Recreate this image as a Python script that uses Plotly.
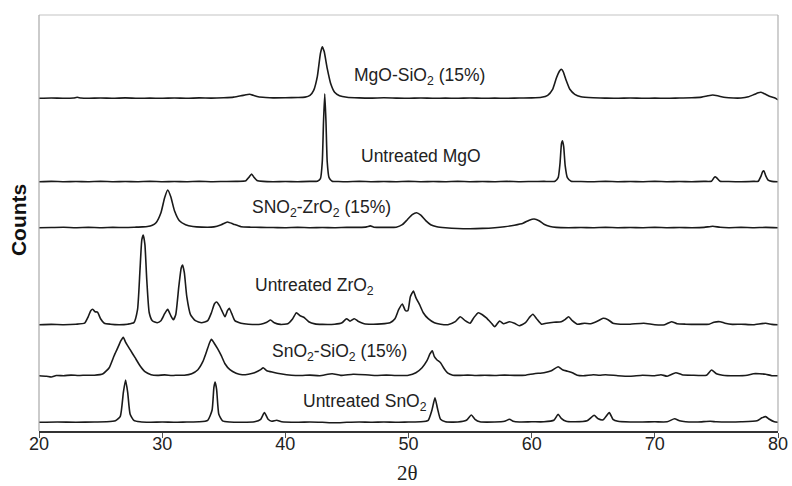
import plotly.graph_objects as go

# ---- data (2theta positions and intensities above each pattern's baseline) ----
labels = ["MgO-SiO<sub>2</sub> (15%)", "Untreated MgO", "SNO<sub>2</sub>-ZrO<sub>2</sub> (15%)",
          "Untreated ZrO<sub>2</sub>", "SnO<sub>2</sub>-SiO<sub>2</sub> (15%)", "Untreated SnO<sub>2</sub>"]
offsets = [332.7, 249.3, 203.3, 106.3, 55.3, 8.7]

mgo_sio2_x = [20, 21, 22, 22.8, 23.1, 23.4, 24, 25, 26, 27, 28, 29, 30, 31, 32, 33, 34, 35, 35.8, 36.4,
              36.8, 37.1, 37.4, 37.8, 38.4, 39, 40, 41, 41.6, 42.0, 42.3, 42.6, 42.85, 43.0, 43.15, 43.4,
              43.7, 44.0, 44.4, 45, 46, 47, 48, 49, 50, 51, 52, 53, 54, 55, 56, 57, 58, 59, 60, 60.8,
              61.3, 61.7, 62.0, 62.25, 62.4, 62.55, 62.8, 63.1, 63.5, 64, 65, 66, 67, 68, 69, 70, 71,
              72, 73, 73.8, 74.3, 74.7, 75.1, 75.6, 76, 77, 77.6, 78.1, 78.4, 78.6, 78.9, 79.3, 79.7, 80]
mgo_sio2_y = [0, 0.3, 0, 0.3, 1.0, 0.3, 0, 0.3, 0, 0.4, 0, 0.2, 0, 0.3, 0, 0.4, 0.2, 0.6, 1.2, 2.5,
              3.5, 4.0, 3.0, 1.5, 0.8, 0.4, 0.5, 0.8, 1.2, 3, 8, 22, 45, 51.6, 47, 30,
              14, 6, 2.5, 1, 0.4, 0.2, 0.5, 0.2, 0, 0.3, 0, 0.2, 0, 0.3, 0, 0.2, 0, 0.3, 0.4, 1,
              3, 9, 20, 27, 29, 27, 18, 9, 4, 1.5, 0.5, 0.2, 0, 0.3, 0, 0.2, 0,
              0.3, 0.5, 1.2, 2.5, 3.3, 2.5, 1.0, 0.5, 0.3, 1.5, 4, 5.5, 6, 4.5, 2, 0.5, -1.5]

mgo_x = [20, 21, 22, 23, 24, 25, 26, 27, 28, 29, 30, 31, 32, 33, 34, 35, 36, 36.8, 37.05, 37.26, 37.45,
         37.7, 38.2, 39, 40, 41, 42, 42.6, 42.85, 43.0, 43.1, 43.2, 43.3, 43.4, 43.55, 43.8, 44.3,
         45, 46, 47, 48, 49, 50, 51, 52, 53, 54, 55, 56, 57, 58, 59, 60, 61, 61.9, 62.15, 62.3, 62.42,
         62.5, 62.6, 62.72, 62.9, 63.2, 64, 65, 66, 67, 68, 69, 70, 71, 72, 73, 74, 74.6, 74.8, 74.9,
         75.05, 75.3, 76, 77, 78, 78.4, 78.6, 78.75, 78.85, 79.0, 79.2, 79.5, 80]
mgo_y = [0, 0.3, 0, 0.2, 0, 0.3, 0, 0.2, 0, 0.3, 0, 0.2, 0, 0.3, 0, 0.2, 0.3, 1.0, 4.5, 7.7, 4.5,
         1.2, 0.3, 0, 0.2, 0, 0.3, 0.5, 3, 20, 60, 88, 60, 20, 4, 0.5, 0.2,
         0, 0.3, 0, 0.2, 0, 0.3, 0, 0.2, 0, 0.3, 0, 0.2, 0, 0.3, 0, 0.2, 0.3, 0.5, 4, 18, 38,
         41, 35, 16, 4, 0.5, 0.2, 0, 0.3, 0, 0.2, 0, 0.3, 0, 0.2, 0, 0.3, 0.5, 4, 5,
         3.5, 0.5, 0.2, 0, 0.3, 0.5, 5, 10, 11, 6, 1.5, 0.3, 0]

sno2_zro2_x = [20, 21, 22, 23, 24, 25, 26, 27, 27.8, 28.4, 28.8, 29.2, 29.5, 29.9, 30.2, 30.45, 30.7,
               31.0, 31.4, 31.9, 32.5, 33.2, 34.2, 34.8, 35.3, 35.8, 36.4, 37.2, 38, 39, 40, 41, 42, 43,
               44, 45, 46, 46.6, 46.9, 47.2, 48, 49.0, 49.5, 49.9, 50.3, 50.65, 51.0, 51.4, 51.8, 52.3,
               53, 54, 55, 56, 57, 57.8, 58.6, 59.3, 59.8, 60.2, 60.6, 61.0, 61.5, 62, 63, 64, 65, 66,
               67, 68, 69, 70, 71, 72, 73, 74, 74.7, 75.3, 76, 77, 78, 79, 80]
sno2_zro2_y = [0, 0.2, 0.4, 0, 0.3, 0, 0.3, 0.2, 0.5, 0.8, 1.2, 2.5, 5, 15, 30, 37.7, 31,
               17, 7, 3, 1.2, 0.6, 0.8, 3, 5.7, 3.5, 1, 0.5, 0.3, 0.2, 0, 0.3, 0, 0.2,
               0, 0.3, 0.3, 0.8, 1.8, 0.5, 0.3, 0.5, 3, 8, 13, 15, 12.5, 7, 3, 1,
               0, -0.8, -1, -0.7, 0, 1, 2.5, 4.5, 7.5, 8.7, 7, 3.5, 1.2, 0.3, 0, 0.2, 0, 0.3,
               0, 0.2, 0, 0.3, 0, 0.2, 0, 0.3, 1.5, 0.4, 0, 0.3, 0, 0.3, 0]

zro2_x = [20, 21, 22, 23, 23.7, 24.0, 24.2, 24.36, 24.55, 24.75, 25.0, 25.3, 25.8, 26.5, 27.2, 27.7,
          28.0, 28.2, 28.35, 28.47, 28.6, 28.75, 28.95, 29.2, 29.6, 29.9, 30.2, 30.45, 30.7, 30.9,
          31.1, 31.35, 31.55, 31.66, 31.8, 32.0, 32.3, 32.7, 33.2, 33.7, 34.0, 34.25, 34.42, 34.65,
          34.85, 35.1, 35.3, 35.45, 35.65, 35.9, 36.4, 37, 38, 38.5, 38.8, 39.1, 39.6, 40.2, 40.6,
          40.9, 41.2, 41.5, 41.9, 42.4, 43, 44, 44.6, 44.97, 45.25, 45.6, 45.9, 46.4, 47, 47.8, 48.5,
          48.9, 49.2, 49.5, 49.75, 49.95, 50.15, 50.4, 50.6, 50.9, 51.2, 51.6, 52.1, 52.6, 53.2, 53.8,
          54.2, 54.6, 55.0, 55.3, 55.66, 56.0, 56.3, 56.7, 57.0, 57.4, 57.7, 58.2, 58.6, 59.0, 59.5,
          59.8, 60.1, 60.4, 60.8, 61.2, 61.8, 62.4, 62.7, 63.0, 63.3, 63.7, 64.3, 64.8, 65.4, 65.8,
          66.2, 66.6, 67.2, 68, 69.1, 70, 70.8, 71.35, 71.8, 72.5, 73.5, 74.4, 74.8, 75.3, 75.7, 76.3,
          77, 78, 79, 79.5, 80]
zro2_y = [0, 0.3, 0, 0.5, 1.5, 8, 14, 15.4, 13, 12.5, 6, 1.5, 0.5, 0, 0.5, 2,
          15, 55, 85, 89.7, 80, 45, 12, 4, 2, 4, 11, 15.4, 9, 5,
          10, 38, 57, 59.7, 52, 28, 10, 4, 2, 4, 12, 21, 22.7, 19,
          14, 8, 14, 16.4, 11, 4, 1.5, 0.5, 0.5, 2.5, 4.7, 2, 0.3, 1, 6,
          12, 9, 7.5, 3, 0.8, 0.3, 0.5, 2, 6, 3.5, 6, 3.5, 1, 0.5, 0.8, 2,
          6, 15, 20.7, 14, 14, 28, 33.7, 27, 20, 12, 6, 2, 0.5, 0, 3,
          8, 4, 1.5, 7, 12, 10, 7, 2, -2, 3.7, 1, 3, 1.5, -1, 2,
          7, 10.4, 6, 0.5, 1.5, 2.5, 3, 5, 8, 4, 0.5, 1.5, 1, 4, 6.4,
          5, 1.5, 0.5, 0.5, 1.5, 0, 0, 3, 1, 0.5, 0.3, 0.5, 2.5, 3, 1.5, 0.3,
          0.5, 0, 1.5, 0.3, 0]

sno2_sio2_x = [20, 20.6, 21.0, 21.4, 22, 22.6, 23.2, 23.8, 24.5, 25.2, 25.7, 26.1, 26.4, 26.65, 26.84,
               27.05, 27.4, 27.8, 28.2, 28.6, 29.1, 29.6, 30.2, 30.8, 31.3, 31.8, 32.4, 32.9, 33.3, 33.6,
               33.85, 34.0, 34.2, 34.5, 34.8, 35.1, 35.5, 36.0, 36.5, 37.0, 37.5, 38.0, 38.2, 38.5, 39,
               39.6, 40.5, 41.3, 42, 42.8, 43.8, 44.5, 45.5, 46.5, 47.3, 48.2, 49, 50.0, 50.6, 51.1, 51.5,
               51.75, 51.93, 52.1, 52.3, 52.6, 52.9, 53.2, 53.6, 54.2, 54.8, 55.5, 56.2, 57, 57.8, 58.6,
               59.5, 60.2, 61, 61.6, 62.15, 62.5, 62.9, 63.3, 63.7, 64.2, 65, 65.5, 66, 67, 68, 69, 70,
               70.5, 71, 71.7, 72.2, 73, 74.2, 74.6, 75.0, 75.5, 76.5, 77.5, 78, 78.5, 79, 79.5, 80]
sno2_sio2_y = [0, -0.5, -1.3, 0.2, 0, 0.6, 0.2, 0.5, 0.5, 2, 8, 20, 28, 35, 38.4,
               33, 26, 18, 10, 4, 1, 0.3, 0.8, 0.2, 0.5, 0.5, 2, 6, 14, 24,
               33, 36.4, 33, 27, 20, 12, 6, 2.5, 1, 1.5, 3, 6, 8, 5, 3.5,
               2, 0.5, 0.2, 0.6, 0, 2, 0.3, 1.5, 1, 0.2, 0.6, 0.2, 0.5, 3, 8, 15,
               22, 25, 19, 16, 13, 7, 2.5, 0.5, 0.3, 0.6, 0.2, 0.5, 0.2, 0.6, 0.3,
               0.5, 2, 3, 5, 9, 6, 4.5, 3, 0.5, 0, 1, 0.5, 1, 0, -0.5, 0.5, 0,
               1, -0.5, 3, 1, 0.5, 0.5, 5.7, 2, 0.5, 0, 0.5, 2, 2, 1.5, 0, 0]

sno2_x = [20, 21.5, 23, 24.5, 25.5, 26.2, 26.6, 26.85, 27.03, 27.2, 27.4, 27.7, 28.2, 29, 30, 31, 32,
          33, 33.7, 34.05, 34.2, 34.3, 34.42, 34.6, 34.9, 35.5, 36.5, 37.5, 38.0, 38.3, 38.6, 38.9,
          39.3, 39.7, 41, 42, 43, 44, 45, 46, 47, 48, 49, 50, 51, 51.6, 51.9, 52.15, 52.35, 52.6, 53,
          54, 54.7, 55.1, 55.4, 55.8, 57, 57.8, 58.2, 58.5, 59, 60, 61, 61.8, 62.15, 62.4, 62.8, 63.5,
          64.5, 65.07, 65.4, 65.8, 66.3, 66.6, 67, 68, 69, 70, 71, 71.6, 72.0, 72.5, 73.5, 74.5, 75,
          76, 77, 78.3, 78.7, 79.0, 79.3, 79.7, 80]
sno2_y = [0, 0.3, 0, 0.3, 0.5, 1.5, 6, 30, 42.3, 30, 8, 2, 0.5, 0, 0.3, 0, 0.3,
          0.5, 2, 12, 35, 40.3, 33, 8, 1.5, 0.3, 0, 0.5, 3, 9.7, 3, 1,
          2, 0.5, 0, 0.3, 0, -0.5, 0, 0.3, 0, 0.3, 0, 0.3, 0.5, 2, 12, 24.6, 14, 3, 0.5,
          0.3, 2, 7.3, 3, 0.5, 0.3, 1, 3, 1, 0.3, 0.5, 0.5, 2, 8, 4, 1, 0.5,
          1.5, 7, 3.5, 2.5, 9.7, 3, 1, 0.3, 0.3, 0.5, 0.5, 3.5, 1.5, 0.5, 0.3, 1, 0.5,
          0.3, 0.5, 1.5, 4.5, 5.7, 3, 0.5, 0]

series_x = [mgo_sio2_x, mgo_x, sno2_zro2_x, zro2_x, sno2_sio2_x, sno2_x]
series_y = [mgo_sio2_y, mgo_y, sno2_zro2_y, zro2_y, sno2_sio2_y, sno2_y]

# label anchor points (2theta, height)
label_x = [50.9, 51.05, 42.95, 42.36, 44.37, 46.46]
label_y = [355, 275, 223, 145, 79, 29]

x_ticks = [20, 30, 40, 50, 60, 70, 80]

fig = go.Figure()
for xs, ys, off in zip(series_x, series_y, offsets):
    fig.add_trace(go.Scatter(x=xs, y=[v + off for v in ys], mode="lines",
                             line=dict(color="#1a1a1a", width=1.6, shape="spline", smoothing=0.5),
                             hoverinfo="skip", showlegend=False))

for lab, lx, ly in zip(labels, label_x, label_y):
    fig.add_annotation(x=lx, y=ly, text=lab, showarrow=False, xanchor="center", yanchor="middle",
                       font=dict(family="Liberation Sans, Arial", size=17.5, color="#222"))

fig.add_annotation(xref="paper", yref="paper", x=-0.0284, y=0.507, text="<b>Counts</b>",
                   textangle=-90, showarrow=False, xanchor="center", yanchor="middle",
                   font=dict(family="Liberation Sans, Arial", size=21, color="#111"))
fig.add_annotation(xref="paper", yref="paper", x=0.4993, y=-0.1322, text="2θ", showarrow=False,
                   xanchor="center", yanchor="bottom", borderpad=0,
                   font=dict(family="Liberation Serif, Times New Roman", size=21, color="#222"))

# light frame on top / right / left
fig.add_shape(type="line", xref="paper", yref="paper", x0=0, x1=1, y0=1, y1=1,
              line=dict(color="#c4c4c4", width=1.2))
fig.add_shape(type="line", xref="paper", yref="paper", x0=1, x1=1, y0=0, y1=1,
              line=dict(color="#b0b0b0", width=1.2))
fig.add_shape(type="line", xref="paper", yref="paper", x0=0, x1=0, y0=0, y1=1,
              line=dict(color="#a8a8a8", width=1.2))

fig.update_layout(
    width=792, height=486,
    margin=dict(l=39, r=14, t=15, b=55, autoexpand=False),
    paper_bgcolor="white", plot_bgcolor="white",
    xaxis=dict(range=[20, 80], tickvals=x_ticks, ticktext=[str(t) for t in x_ticks],
               automargin=False,
               showgrid=False, zeroline=False, showline=True, linecolor="#333", linewidth=1.5,
               ticks="outside", ticklen=5, tickwidth=1.2, tickcolor="#555",
               ticklabelstandoff=-9,
               tickfont=dict(family="Liberation Sans, Arial", size=18, color="#222")),
    yaxis=dict(range=[0, 416], showticklabels=False, showgrid=False, zeroline=False,
               showline=False, ticks="", automargin=False),
)

fig.write_html("out.html")
